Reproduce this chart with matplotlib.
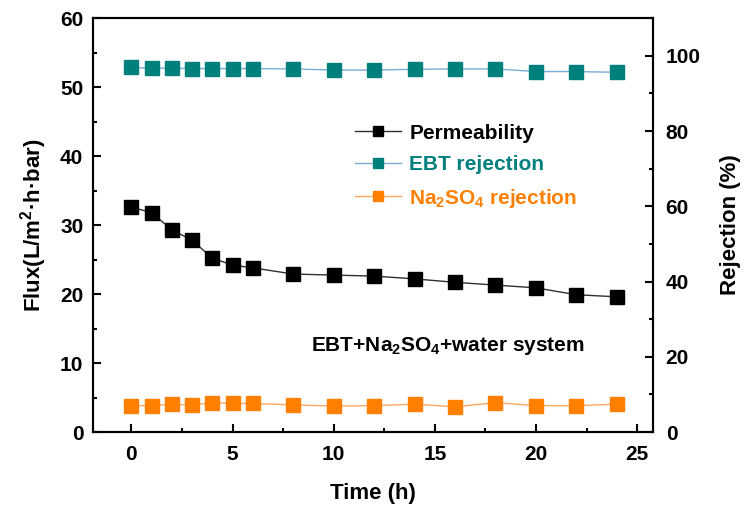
import matplotlib
matplotlib.use("Agg")
import matplotlib.pyplot as plt
from matplotlib.ticker import MultipleLocator

plt.rcParams['font.family'] = ['Liberation Sans', 'DejaVu Sans']
plt.rcParams['font.weight'] = 'bold'
plt.rcParams['mathtext.fontset'] = 'custom'
plt.rcParams['mathtext.rm'] = 'Liberation Sans:bold'
plt.rcParams['mathtext.default'] = 'rm'

# data
time_h = [0, 1, 2, 3, 4, 5, 6, 8, 10, 12, 14, 16, 18, 20, 22, 24]
permeability = [32.6, 31.8, 29.3, 27.8, 25.2, 24.2, 23.8, 22.9, 22.75, 22.6,
                22.2, 21.7, 21.3, 20.9, 19.9, 19.6]
ebt_rej = [96.9, 96.7, 96.7, 96.6, 96.6, 96.6, 96.6, 96.5, 96.2, 96.2,
           96.4, 96.5, 96.5, 95.8, 95.8, 95.6]
na2so4_rej = [7.0, 7.0, 7.4, 7.2, 7.8, 7.6, 7.6, 7.2, 6.9, 7.0,
              7.4, 6.7, 7.8, 7.0, 7.0, 7.4]

fig = plt.figure(figsize=(7.5, 5.18), dpi=100)
ax = fig.add_axes([0.124, 0.166, 0.747, 0.799])
ax2 = ax.twinx()

l1, = ax.plot(time_h, permeability, color='#303030', lw=1, marker='s', ms=10,
              mfc='black', mec='black', label='Permeability', zorder=3)
l2, = ax2.plot(time_h, ebt_rej, color='#7aaed6', lw=1, marker='s', ms=10,
               mfc='#00807d', mec='#00807d', label='EBT rejection')
l3, = ax2.plot(time_h, na2so4_rej, color='#ffa860', lw=1, marker='s', ms=10,
               mfc='#ff8000', mec='#ff8000', label='Na$_2$SO$_4$ rejection')

ax.set_xlim(-1.9, 25.8)
ax.set_ylim(0, 60)
ax2.set_ylim(0, 110)

ax.xaxis.set_major_locator(MultipleLocator(5))
ax.xaxis.set_minor_locator(MultipleLocator(2.5))
ax.yaxis.set_major_locator(MultipleLocator(10))
ax.yaxis.set_minor_locator(MultipleLocator(5))
ax2.yaxis.set_major_locator(MultipleLocator(20))
ax2.yaxis.set_minor_locator(MultipleLocator(10))

for a in (ax, ax2):
    for s in a.spines.values():
        s.set_linewidth(1.5)
ax.tick_params(axis='both', which='major', direction='in', length=6, width=1.5,
               labelsize=15, top=False, right=False)
ax.tick_params(axis='x', which='major', pad=9)
ax.tick_params(axis='y', which='major', pad=7)
ax.tick_params(axis='both', which='minor', direction='in', length=3, width=1.5,
               top=False, right=False)
ax2.tick_params(axis='y', which='major', direction='in', length=6, width=1.5,
                labelsize=15, pad=9)
ax2.tick_params(axis='y', which='minor', direction='in', length=3, width=1.5)

ax.set_xlabel('Time (h)', fontsize=16, fontweight='bold', labelpad=14)
ax.set_ylabel('Flux(L/m$^2$·h·bar)', fontsize=16, fontweight='bold', labelpad=8)
ax2.set_ylabel('Rejection (%)', fontsize=16, fontweight='bold', labelpad=14)

leg = ax.legend([l1, l2, l3], [l1.get_label(), l2.get_label(), l3.get_label()],
                loc='upper left', bbox_to_anchor=(0.468, 0.745), frameon=False,
                borderpad=0, borderaxespad=0,
                fontsize=15, handlelength=2.2, handletextpad=0.4, labelspacing=0.6,
                markerscale=0.75)
for txt, c in zip(leg.get_texts(), ['black', '#00807d', '#ff8000']):
    txt.set_color(c)

ax.text(8.86, 12.5, 'EBT+Na$_2$SO$_4$+water system', fontsize=15, fontweight='bold',
        va='center')

fig.savefig('out.png', dpi=100)
